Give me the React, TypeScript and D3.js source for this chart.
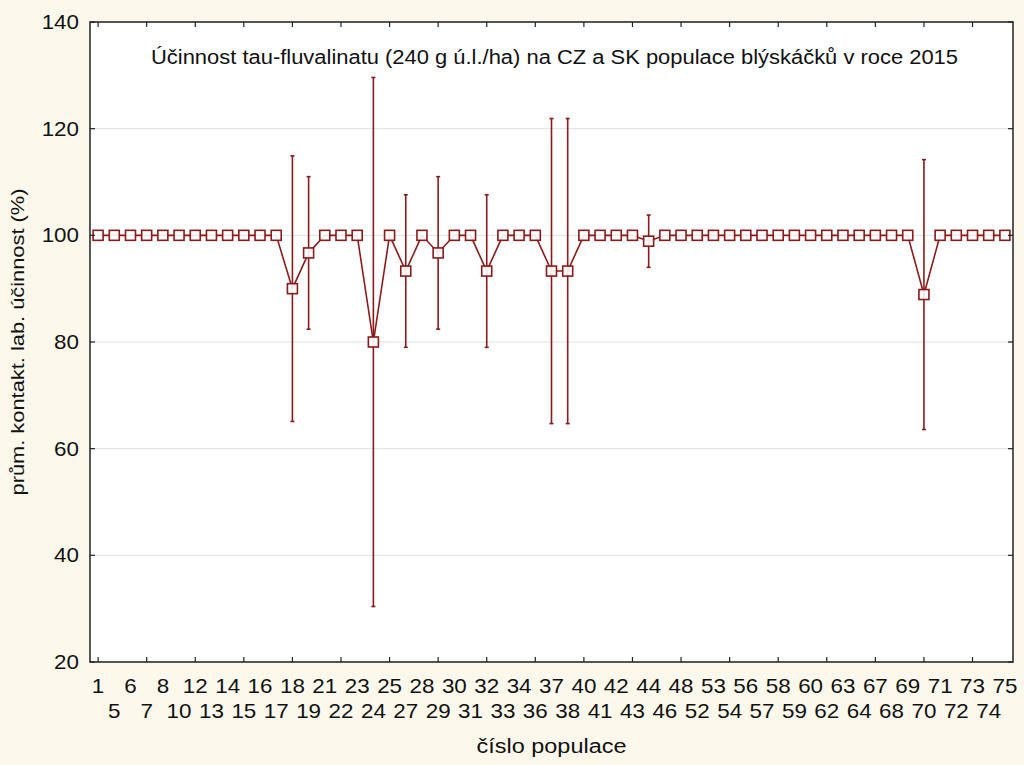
import React from "react";
import * as d3 from "d3";

const populations = [1,5,6,7,8,10,12,13,14,15,16,17,18,19,21,22,23,24,25,27,28,29,30,31,32,33,34,36,37,38,40,41,42,43,44,46,48,52,53,54,56,57,58,59,60,62,63,64,67,68,69,70,71,72,73,74,75];
const means = [100,100,100,100,100,100,100,100,100,100,100,100,90,96.7,100,100,100,80,100,93.3,100,96.7,100,100,93.3,100,100,100,93.3,93.3,100,100,100,100,98.9,100,100,100,100,100,100,100,100,100,100,100,100,100,100,100,100,88.9,100,100,100,100,100];
const errors = [0,0,0,0,0,0,0,0,0,0,0,0,24.9,14.3,0,0,0,49.6,0,14.3,0,14.3,0,0,14.3,0,0,0,28.6,28.6,0,0,0,0,4.9,0,0,0,0,0,0,0,0,0,0,0,0,0,0,0,0,25.3,0,0,0,0,0];
const yTicks = [20,40,60,80,100,120,140];

const W = 1024, H = 765;
const L = 90, R = 1013, T = 22, B = 662;
const COLOR = "#8B1A1A";
const FONT = "'Liberation Sans', Arial, sans-serif";
const FS = 20;
const SX = 1.12;

export default function App() {
  const x = d3.scalePoint<number>().domain(d3.range(populations.length)).range([L, R]).padding(0.5);
  const y = d3.scaleLinear().domain([20, 140]).range([B, T]);
  const line = d3.line<number>().x((_, i) => x(i) as number).y((d) => y(d));
  const xTickIdx = d3.range(0, populations.length, 3);
  return (
    <svg width={W} height={H} style={{ position: "absolute", left: 0, top: 0, fontFamily: FONT }}>
      <rect x={0} y={0} width={W} height={H} fill="#FCF9EC" />
      <rect x={L} y={T} width={R - L} height={B - T} fill="#ffffff" />
      {yTicks.map((t) => (
        <line key={"g" + t} x1={L} x2={R} y1={y(t)} y2={y(t)} stroke="#e2e2e2" strokeWidth={1} />
      ))}
      <text x={151} y={64} fontSize={FS} fill="#111" textLength={807} lengthAdjust="spacingAndGlyphs">
        Účinnost tau-fluvalinatu (240 g ú.l./ha) na CZ a SK populace blýskáčků v roce 2015
      </text>
      <path d={line(means) || ""} fill="none" stroke={COLOR} strokeWidth={1.6} />
      {means.map((m, i) =>
        errors[i] > 0 ? (
          <g key={"e" + i} stroke={COLOR} strokeWidth={1.6}>
            <line x1={x(i)} x2={x(i)} y1={y(m + errors[i])} y2={y(m - errors[i])} />
            <line x1={(x(i) as number) - 2} x2={(x(i) as number) + 2} y1={y(m + errors[i])} y2={y(m + errors[i])} />
            <line x1={(x(i) as number) - 2} x2={(x(i) as number) + 2} y1={y(m - errors[i])} y2={y(m - errors[i])} />
          </g>
        ) : null
      )}
      {means.map((m, i) => (
        <rect key={"m" + i} x={(x(i) as number) - 5} y={y(m) - 5} width={10} height={10} fill="#ffffff" fillOpacity={0.9} stroke={COLOR} strokeWidth={1.6} />
      ))}
      <rect x={L} y={T} width={R - L} height={B - T} fill="none" stroke="#222" strokeWidth={1.5} />
      {xTickIdx.map((i) => (
        <g key={"xt" + i} stroke="#222" strokeWidth={1.2}>
          <line x1={x(i)} x2={x(i)} y1={B} y2={B - 5} />
          <line x1={x(i)} x2={x(i)} y1={T} y2={T + 5} />
        </g>
      ))}
      {yTicks.map((t) => (
        <g key={"yt" + t}>
          <line x1={L} x2={L + 5} y1={y(t)} y2={y(t)} stroke="#222" strokeWidth={1.2} />
          <line x1={R} x2={R - 5} y1={y(t)} y2={y(t)} stroke="#222" strokeWidth={1.2} />
          <text transform={`translate(79, ${y(t) + 7}) scale(${SX}, 1)`} textAnchor="end" fontSize={FS} fill="#111">{t}</text>
        </g>
      ))}
      {populations.map((p, i) => (
        <text key={"xl" + i} transform={`translate(${x(i)}, ${i % 2 === 0 ? 693 : 718}) scale(${SX}, 1)`} textAnchor="middle" fontSize={FS} fill="#111">{p}</text>
      ))}
      <text x={(L + R) / 2} y={753} textAnchor="middle" fontSize={FS} fill="#111" textLength={150} lengthAdjust="spacingAndGlyphs">číslo populace</text>
      <text transform={`translate(24, ${(T + B) / 2}) rotate(-90)`} textAnchor="middle" fontSize={18} fill="#111" textLength={307} lengthAdjust="spacingAndGlyphs">prům. kontakt. lab. účinnost (%)</text>
    </svg>
  );
}
